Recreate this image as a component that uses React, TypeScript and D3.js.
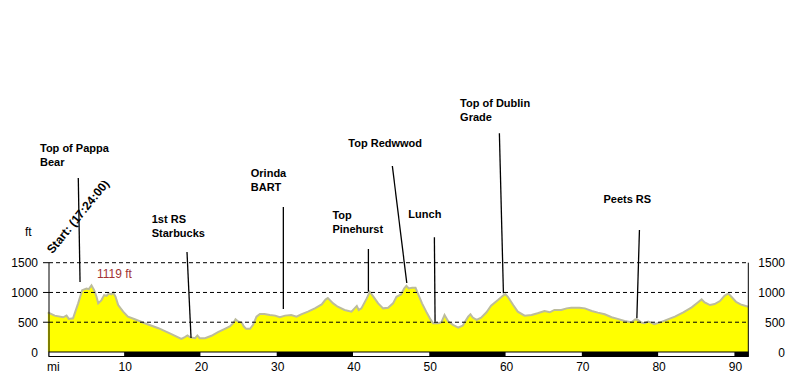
import React from "react";
import * as d3 from "d3";

const miles = [
  0, 0.9, 2.0, 2.45, 2.75, 3.3, 3.97, 4.5, 5.07, 5.37, 5.72, 6.07, 6.38, 6.6, 7.03, 7.38, 7.69, 8.0, 8.35, 8.56,
  8.87, 9.22, 9.87, 10.5, 11.4, 12.7, 14.5, 16.2, 17.5, 17.96, 18.3, 18.6, 18.8, 19.3, 19.6, 19.9, 20.6, 21.45,
  22.3, 23.2, 23.85, 24.3, 24.6, 24.95, 25.4, 25.7, 26.0, 26.5, 26.9, 27.35, 27.8, 28.4, 29.1, 29.8, 30.4, 31.1,
  31.9, 32.6, 33.2, 34.1, 35.0, 35.9, 36.4, 36.7, 37.4, 38.0, 38.9, 39.8, 40.2, 40.5, 40.75, 41.1, 41.8, 42.2,
  42.6, 43.3, 43.95, 44.6, 45.25, 45.7, 46.3, 46.7, 47.0, 47.3, 47.75, 48.2, 48.5, 49.05, 49.6, 50.2, 50.5, 51.2,
  51.6, 52.0, 52.5, 53.1, 53.8, 54.4, 54.7, 55.1, 55.4, 55.7, 56.2, 56.8, 57.5, 58.1, 59.0, 59.65, 59.97, 60.3,
  61.0, 61.6, 62.5, 63.4, 64.2, 65.1, 65.8, 66.4, 67.3, 68.0, 68.6, 69.7, 70.4, 71.3, 72.1, 73.0, 73.9, 74.7,
  75.6, 76.5, 77.0, 77.35, 77.8, 78.2, 78.7, 79.1, 79.5, 80.2, 81.1, 82.2, 83.3, 84.4, 85.2, 85.7, 86.1, 86.8,
  87.4, 88.1, 88.7, 89.2, 89.6, 90.2, 90.8, 91.82,
];

const elevation = [
  667, 611, 583, 611, 556, 567, 817, 1039, 1067, 1056, 1119, 1039, 928, 817, 872, 956, 944, 983, 967, 1000,
  928, 789, 678, 594, 550, 483, 400, 300, 222, 250, 278, 250, 244, 233, 278, 233, 233, 272,
  333, 389, 428, 483, 550, 511, 494, 428, 389, 389, 456, 594, 639, 639, 622, 611, 583, 611,
  622, 594, 633, 678, 733, 800, 880, 905, 817, 761, 706, 678, 733, 772, 706, 733, 900, 1011,
  944, 817, 733, 744, 817, 928, 967, 1067, 1111, 1067, 1078, 1078, 983, 817, 678, 539, 483, 483,
  500, 622, 511, 456, 411, 444, 511, 594, 633, 578, 539, 578, 667, 778, 872, 944, 972, 928,
  789, 678, 611, 622, 650, 689, 667, 706, 706, 733, 744, 744, 733, 689, 661, 633, 583, 556,
  522, 500, 550, 539, 494, 483, 511, 494, 467, 494, 539, 594, 667, 750, 833, 883, 833, 789,
  806, 856, 944, 983, 928, 844, 800, 761,
];

const yTicks = [0, 500, 1000, 1500];
const xTicks = [10, 20, 30, 40, 50, 60, 70, 80, 90];
const barSegments = [0, 10, 20, 30, 40, 50, 60, 70, 80, 90];

const annoLabels = [
  ["Top of Pappa", "Bear"],
  ["1st RS", "Starbucks"],
  ["Orinda", "BART"],
  ["Top", "Pinehurst"],
  ["Top Redwwod"],
  ["Lunch"],
  ["Top of Dublin", "Grade"],
  ["Peets RS"],
];
const annoLabelMi = [-1.03, 13.62, 26.6, 37.3, 39.39, 47.26, 54.04, 72.83];
const annoLabelFt = [3360, 2167, 2935, 2229, 3439, 2251, 4116, 2498];
const annoTopMi = [3.99, 18.24, 30.87, 42.02, 45.16, 50.67, 59.19, 77.55];
const annoTopFt = [2923, 1680, 2436, 1730, 3124, 1927, 3674, 2049];
const annoBotMi = [4.22, 18.77, 30.87, 42.02, 47.05, 50.76, 59.72, 77.21];
const annoBotFt = [1176, 235, 722, 1013, 1159, 509, 986, 566];

const startText = "Start: (17:24:00)";
const startMi = 0.62;
const startFt = 1640;

const FONT = "Arial, 'Liberation Sans', sans-serif";

export default function App() {
  const W = 792;
  const H = 373;
  const x = d3.scaleLinear().domain([0, 91.82]).range([47.85, 748.3]);
  const y = d3.scaleLinear().domain([0, 1500]).range([352, 262.7]);

  const pts = miles.map((m, i) => [m, elevation[i]] as [number, number]);
  const area = d3
    .area<[number, number]>()
    .x((d) => x(d[0]))
    .y0(y(0))
    .y1((d) => y(d[1]));
  const line = d3
    .line<[number, number]>()
    .x((d) => x(d[0]))
    .y((d) => y(d[1]));

  const maxIdx = d3.maxIndex(elevation);
  const maxVal = elevation[maxIdx];

  const left = 49;
  const right = x(91.82);
  const barTop = y(0);
  const barH = 4.5;

  return (
    <svg
      width={W}
      height={H}
      style={{ position: "absolute", left: 0, top: 0, background: "#fff" }}
      fontFamily={FONT}
    >
      <defs>
        <clipPath id="startClip">
          <rect x={0} y={181} width={W} height={H} />
        </clipPath>
      </defs>
      <rect width={W} height={H} fill="#fff" />
      <path d={area(pts) || ""} fill="#ffff00" />
      <path d={line(pts) || ""} fill="none" stroke="#bcbc9c" strokeWidth={2} />

      {yTicks
        .filter((t) => t > 0)
        .map((t) => (
          <g key={t}>
            <line x1={43} x2={left} y1={y(t)} y2={y(t)} stroke="#000" />
            <line x1={left} x2={right} y1={y(t)} y2={y(t)} stroke="#000" strokeDasharray="4,3" />
          </g>
        ))}
      <line x1={left} x2={left} y1={y(1500)} y2={barTop + barH} stroke="#000" />
      <line x1={right} x2={right} y1={y(1500)} y2={barTop + barH} stroke="#000" />

      {yTicks.map((t) => (
        <g key={"l" + t} fontSize={12} fill="#000">
          <text x={38} y={y(t) + 4.5} textAnchor="end">
            {t}
          </text>
          <text x={785} y={y(t) + 4.5} textAnchor="end">
            {t}
          </text>
        </g>
      ))}
      <text x={25} y={236} fontSize={12}>
        ft
      </text>

      <rect x={left} y={barTop} width={right - left} height={barH} fill="#fff" stroke="#000" strokeWidth={1} />
      {barSegments
        .filter((_, i) => i % 2 === 1)
        .map((s) => (
          <rect key={s} x={x(s)} y={barTop} width={x(Math.min(s + 10, 91.82)) - x(s)} height={barH} fill="#000" />
        ))}
      <text x={47} y={371} fontSize={12}>
        mi
      </text>
      {xTicks.map((t) => (
        <text key={t} x={x(t) + 1} y={371} fontSize={12} textAnchor="middle">
          {t}
        </text>
      ))}

      <text x={x(miles[maxIdx]) + 5.5} y={y(1243)} fontSize={12} fill="#a33333">
        {maxVal} ft
      </text>

      {annoLabels.map((lines, i) => (
        <g key={i}>
          <line
            x1={x(annoTopMi[i])}
            y1={y(annoTopFt[i])}
            x2={x(annoBotMi[i])}
            y2={y(annoBotFt[i])}
            stroke="#000"
            strokeWidth={1.3}
          />
          {lines.map((s, j) => (
            <text
              key={j}
              x={x(annoLabelMi[i])}
              y={y(annoLabelFt[i]) + j * 13.6}
              fontSize={11}
              fontWeight="bold"
              fill="#000"
            >
              {s}
            </text>
          ))}
        </g>
      ))}

      <g clipPath="url(#startClip)">
        <text
          transform={`translate(${x(startMi)},${y(startFt)}) rotate(-51)`}
          fontSize={12}
          fontWeight="bold"
          fill="#000"
        >
          {startText}
        </text>
      </g>
    </svg>
  );
}
